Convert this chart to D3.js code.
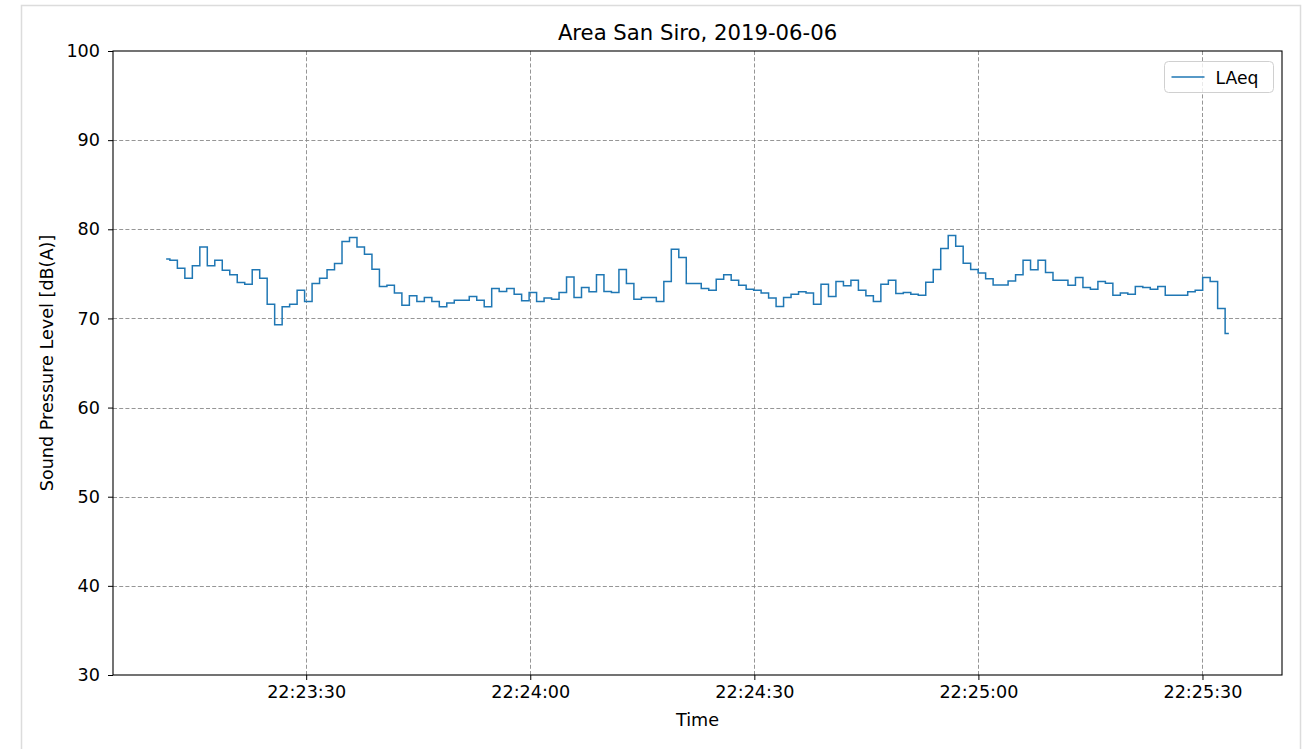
<!DOCTYPE html>
<html>
<head>
<meta charset="utf-8">
<script src="https://cdn.jsdelivr.net/npm/d3@7"></script>
<style>
  html, body { margin: 0; padding: 0; background: #fff; }
  svg { display: block; font-family: "DejaVu Sans", sans-serif; }
</style>
</head>
<body>
<svg id="chart" width="1311" height="749"></svg>
<script>
// ---- data ----
const title = "Area San Siro, 2019-06-06";
const seriesName = "LAeq";
const xLabel = "Time";
const yLabel = "Sound Pressure Level [dB(A)]";
const day = "2019-06-06";
const startTime = "22:23:11.25";   // first sample
const sampleSeconds = 1.002;        // sampling period
const laeq = [
  76.68, 76.53, 75.63, 74.51, 75.90, 78.02, 75.90, 76.53, 75.41, 74.89,
  74.03, 73.84, 75.45, 74.51, 71.60, 69.29, 71.31, 71.60, 73.17, 71.90,
  73.92, 74.51, 75.45, 76.16, 78.62, 79.07, 78.02, 77.20, 75.52, 73.58,
  73.73, 72.84, 71.49, 72.54, 71.90, 72.35, 71.90, 71.31, 71.72, 72.05,
  72.05, 72.46, 72.05, 71.31, 73.36, 73.02, 73.36, 72.72, 71.98, 72.91,
  71.90, 72.28, 72.16, 72.91, 74.66, 72.35, 73.47, 72.99, 74.89, 73.02,
  72.91, 75.49, 73.92, 72.16, 72.35, 72.35, 71.90, 74.14, 77.76, 76.83,
  73.92, 73.92, 73.36, 73.17, 74.40, 74.89, 74.29, 73.73, 73.28, 73.17,
  72.84, 72.28, 71.34, 72.35, 72.72, 72.99, 72.84, 71.60, 73.84, 72.46,
  74.14, 73.66, 74.29, 73.17, 72.54, 71.90, 73.84, 74.29, 72.80, 72.91,
  72.72, 72.61, 74.05, 75.50, 77.85, 79.30, 78.10, 76.20, 75.50, 75.10,
  74.45, 73.75, 73.75, 74.20, 74.89, 76.53, 75.45, 76.53, 75.15, 74.29,
  74.29, 73.73, 74.59, 73.47, 73.28, 74.14, 73.96, 72.61, 72.84, 72.72,
  73.58, 73.47, 73.28, 73.58, 72.61, 72.61, 72.61, 72.99, 73.17, 74.59,
  74.14, 71.12, 68.32
];
const xTickLabels = ["22:23:30", "22:24:00", "22:24:30", "22:25:00", "22:25:30"];
const yTicks = [30, 40, 50, 60, 70, 80, 90, 100];
const yDomain = [30, 100];

// ---- layout ----
const svg = d3.select("#chart");
const plot = { left: 113, top: 51, right: 1282, bottom: 675 };
const FS = 17.6;

const parse = s => new Date(day + "T" + s);
const t0 = parse(startTime);
const data = laeq.map((v, i) => ({ t: new Date(t0.getTime() + i * sampleSeconds * 1000), v }));

// matplotlib-style 5% margins on x
const tMin = data[0].t.getTime(), tMax = data[data.length - 1].t.getTime();
const pad = (tMax - tMin) * 0.05;
const x = d3.scaleTime().domain([new Date(tMin - pad), new Date(tMax + pad)]).range([plot.left, plot.right]);
const y = d3.scaleLinear().domain(yDomain).range([plot.bottom, plot.top]);

// figure border (notebook-like frame)
svg.append("rect").attr("x", 21.5).attr("y", 5.5).attr("width", 1279).attr("height", 760)
  .attr("fill", "#fff").attr("stroke", "#dcdcdc").attr("stroke-width", 1.5);

const xTickDates = xTickLabels.map(parse);

// grid
const grid = svg.append("g").attr("stroke", "#8a8a8a").attr("stroke-width", 0.9)
  .attr("stroke-dasharray", "4,2.2");
grid.selectAll(".gx").data(xTickDates).join("line")
  .attr("x1", d => Math.round(x(d)) + 0.5).attr("x2", d => Math.round(x(d)) + 0.5)
  .attr("y1", plot.top).attr("y2", plot.bottom);
grid.selectAll(".gy").data(yTicks.filter(d => d > yDomain[0] && d < yDomain[1])).join("line")
  .attr("y1", d => Math.round(y(d)) + 0.5).attr("y2", d => Math.round(y(d)) + 0.5)
  .attr("x1", plot.left).attr("x2", plot.right);

// line
const line = d3.line().x(d => x(d.t)).y(d => y(d.v)).curve(d3.curveStep);
svg.append("path").datum(data).attr("d", line)
  .attr("fill", "none").attr("stroke", "#1f77b4").attr("stroke-width", 1.5)
  .attr("stroke-linejoin", "miter");

// axes
const fmt = d3.timeFormat("%H:%M:%S");
const xAxis = d3.axisBottom(x).tickValues(xTickDates).tickFormat(fmt).tickSize(5).tickPadding(6);
const yAxis = d3.axisLeft(y).tickValues(yTicks).tickSize(5).tickPadding(8);

const gx = svg.append("g").attr("transform", `translate(0,${plot.bottom})`).call(xAxis);
const gy = svg.append("g").attr("transform", `translate(${plot.left},0)`).call(yAxis);
[gx, gy].forEach(g => {
  g.select(".domain").remove();
  g.selectAll("text").attr("font-size", FS).attr("fill", "#000").attr("font-family", "DejaVu Sans");
  g.selectAll("line").attr("stroke", "#000");
});

// frame
svg.append("rect").attr("x", plot.left).attr("y", plot.top)
  .attr("width", plot.right - plot.left).attr("height", plot.bottom - plot.top)
  .attr("fill", "none").attr("stroke", "#000").attr("stroke-width", 1.1);

// title & labels
svg.append("text").attr("x", (plot.left + plot.right) / 2).attr("y", 40)
  .attr("text-anchor", "middle").attr("font-size", 21.2).text(title);
svg.append("text").attr("x", (plot.left + plot.right) / 2).attr("y", 726)
  .attr("text-anchor", "middle").attr("font-size", FS).text(xLabel);
svg.append("text").attr("transform", `translate(53,${(plot.top + plot.bottom) / 2}) rotate(-90)`)
  .attr("text-anchor", "middle").attr("font-size", FS).text(yLabel);

// legend
const lg = svg.append("g").attr("transform", "translate(1164.5,61.5)");
lg.append("rect").attr("width", 109).attr("height", 31).attr("rx", 4)
  .attr("fill", "#fff").attr("fill-opacity", 0.8).attr("stroke", "#d0d0d0");
lg.append("line").attr("x1", 7).attr("x2", 40).attr("y1", 15.5).attr("y2", 15.5)
  .attr("stroke", "#1f77b4").attr("stroke-width", 1.5);
lg.append("text").attr("x", 51).attr("y", 22).attr("font-size", 17.2).text(seriesName);
</script>
</body>
</html>
